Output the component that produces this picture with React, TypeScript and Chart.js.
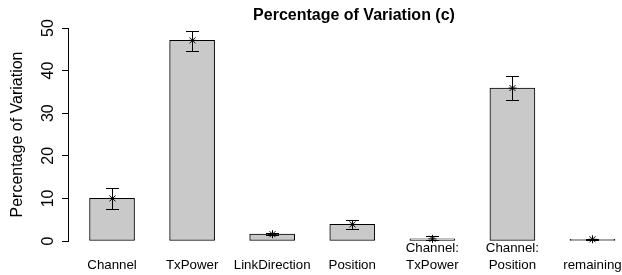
import React, { useEffect, useRef } from "react";
import { Chart, registerables } from "chart.js";

Chart.register(...registerables);

const chartTitle = "Percentage of Variation (c)";
const yTitle = "Percentage of Variation";
const categories = [
  "Channel",
  "TxPower",
  "LinkDirection",
  "Position",
  "Channel:\nTxPower",
  "Channel:\nPosition",
  "remaining",
];
const means = [10.0, 47.1, 1.6, 3.9, 0.5, 35.9, 0.4];
const errLow = [7.5, 44.5, 1.4, 2.8, 0.3, 33.1, 0.3];
const errHigh = [12.5, 49.4, 1.8, 5.0, 1.1, 38.8, 0.5];
const yTicks = [0, 10, 20, 30, 40, 50];

const FONT = "'Liberation Sans', Arial, Helvetica, sans-serif";

const tickLines = categories.map((c) => {
  const parts = c.split("\n");
  return parts.length === 1 ? ["", parts[0]] : parts;
});

const decorPlugin = {
  id: "decor",
  afterDatasetsDraw(chart: any) {
    const { ctx, scales } = chart;
    const x = scales.x;
    const y = scales.y;
    ctx.save();
    ctx.strokeStyle = "#000";
    ctx.lineWidth = 1;
    means.forEach((m, i) => {
      const px = Math.round(x.getPixelForValue(i)) + 0.5;
      const yl = Math.round(y.getPixelForValue(errLow[i])) + 0.5;
      const yh = Math.round(y.getPixelForValue(errHigh[i])) + 0.5;
      const cw = 6.5;
      ctx.beginPath();
      ctx.moveTo(px, yl);
      ctx.lineTo(px, yh);
      ctx.moveTo(px - cw, yh);
      ctx.lineTo(px + cw, yh);
      ctx.moveTo(px - cw, yl);
      ctx.lineTo(px + cw, yl);
      ctx.stroke();
      const py = y.getPixelForValue(m);
      const r = 4;
      const d = 3;
      ctx.beginPath();
      ctx.moveTo(px - r, py);
      ctx.lineTo(px + r, py);
      ctx.moveTo(px, py - r);
      ctx.lineTo(px, py + r);
      ctx.moveTo(px - d, py - d);
      ctx.lineTo(px + d, py + d);
      ctx.moveTo(px - d, py + d);
      ctx.lineTo(px + d, py - d);
      ctx.stroke();
    });
    ctx.restore();
  },
  afterDraw(chart: any) {
    const { ctx, scales } = chart;
    const y = scales.y;
    ctx.save();
    ctx.fillStyle = "#000";
    ctx.font = `16px ${FONT}`;
    ctx.textAlign = "center";
    ctx.textBaseline = "alphabetic";
    yTicks.forEach((v) => {
      const py = y.getPixelForValue(v);
      ctx.save();
      ctx.translate(52.5, py);
      ctx.rotate(-Math.PI / 2);
      ctx.fillText(String(v), 0, 0);
      ctx.restore();
    });
    ctx.font = `bold 16px ${FONT}`;
    ctx.textAlign = "center";
    ctx.textBaseline = "alphabetic";
    ctx.fillText(chartTitle, 354, 19.5);
    ctx.restore();
  },
};

export default function App() {
  const ref = useRef<HTMLCanvasElement | null>(null);
  useEffect(() => {
    if (!ref.current) return;
    const chart = new Chart(ref.current, {
      type: "bar",
      data: {
        datasets: [
          {
            data: means.map((m, i) => ({ x: i, y: m })),
            backgroundColor: "#c9c9c9",
            borderColor: "#000",
            borderWidth: 1,
            borderSkipped: false,
            barThickness: 45,
          },
        ],
      },
      options: {
        responsive: false,
        animation: false,
        layout: { padding: { top: 28, right: 2, left: 0, bottom: 0 } },
        plugins: {
          legend: { display: false },
          tooltip: { enabled: false },
          title: { display: false },
        },
        scales: {
          x: {
            type: "linear",
            offset: false,
            min: -0.55,
            max: 6.34375,
            afterBuildTicks: (s: any) => {
              s.ticks = categories.map((_, i) => ({ value: i }));
            },
            afterFit: (s: any) => {
              s.height = 34;
              s.paddingLeft = 0;
              s.paddingRight = 0;
            },
            grid: { display: false, drawTicks: false, offset: false },
            border: { display: false },
            ticks: {
              autoSkip: false,
              maxRotation: 0,
              minRotation: 0,
              padding: -1,
              color: "#000",
              font: { family: FONT, size: 13.3, lineHeight: 1.25 },
              callback: (v: any) => tickLines[Math.round(Number(v))] ?? "",
            },
          },
          y: {
            min: 0,
            max: 50,
            afterBuildTicks: (s: any) => {
              s.ticks = yTicks.map((v) => ({ value: v }));
            },
            afterFit: (s: any) => {
              s.width = 68;
            },
            grid: {
              display: true,
              drawOnChartArea: false,
              drawTicks: true,
              tickLength: 6,
              color: "#000",
              lineWidth: 1,
            },
            border: { display: true, color: "#000", width: 1 },
            ticks: { display: false },
            title: {
              display: true,
              text: yTitle,
              color: "#000",
              font: { family: FONT, size: 16 },
              padding: { top: 8.4, bottom: 0 },
            },
          },
        },
      },
      plugins: [decorPlugin],
    });
    return () => chart.destroy();
  }, []);
  return (
    <div style={{ position: "absolute", left: 0, top: 0, width: 622, height: 275 }}>
      <canvas ref={ref} width={622} height={275} style={{ display: "block" }} />
    </div>
  );
}
